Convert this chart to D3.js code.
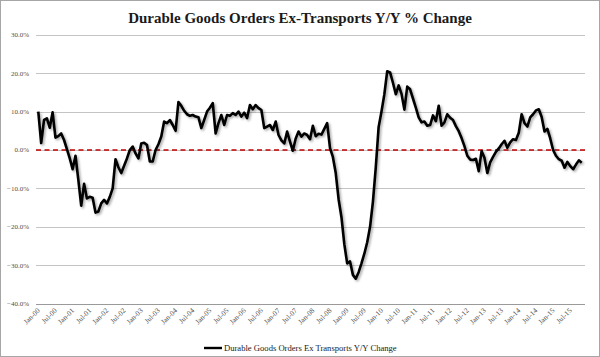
<!DOCTYPE html>
<html>
<head>
<meta charset="utf-8">
<script src="https://cdn.jsdelivr.net/npm/d3@7"></script>
<style>
  html, body { margin: 0; padding: 0; background: #fff; }
  svg { display: block; }
  text { font-family: "Liberation Serif", "DejaVu Serif", serif; }
</style>
</head>
<body>
<svg id="chart" width="600" height="357"></svg>
<script>
// ---- data (monthly, starting Jan 2000) ----
const title = "Durable Goods Orders Ex-Transports Y/Y % Change";
const seriesName = "Durable Goods Orders Ex Transports Y/Y Change";
const startYear = 2000;
const values = [
  10.0, 1.8, 7.8, 8.2, 5.8, 9.8, 3.2, 3.6, 4.3, 2.6, 0.2, -2.2,
  -5.0, -1.5, -7.8, -14.5, -8.8, -12.6, -12.2, -12.4, -16.3, -16.0, -13.9, -13.0,
  -13.9, -12.2, -10.0, -2.4, -4.5, -6.0, -4.1, -2.2, 0.0, 0.9, -0.9, -2.2,
  1.7, 1.9, 1.3, -3.0, -3.0, 0.0, 1.5, 3.5, 7.4, 7.0, 7.8, 6.5,
  5.0, 12.5, 11.5, 10.2, 9.3, 8.9, 9.1, 8.7, 8.5, 5.7, 7.8, 10.0,
  11.0, 12.2, 4.3, 7.0, 9.1, 6.5, 9.1, 8.9, 9.6, 9.1, 10.0, 8.7,
  9.7, 8.3, 11.7, 10.6, 11.7, 10.9, 10.4, 5.7, 6.1, 6.5, 5.2, 7.4,
  3.9, 2.5, 1.7, 4.8, 2.2, -0.2, 3.0, 4.8, 3.5, 4.3, 3.9, 2.8,
  6.3, 3.6, 4.2, 4.0, 5.5, 7.0, 0.5, -1.8, -6.0, -12.8, -17.5, -24.5,
  -29.5, -29.0, -32.5, -33.5, -31.8, -29.5, -27.0, -24.0, -20.0, -13.5, -4.5, 6.0,
  10.0, 14.5, 20.5, 20.2, 17.5, 14.5, 16.8, 14.6, 10.5, 16.5, 15.8, 13.4,
  11.0, 8.5, 7.2, 7.4, 6.3, 6.5, 9.0, 7.5, 11.5, 6.3, 7.2, 9.3,
  8.4, 7.8, 6.2, 4.9, 3.1, 1.0, -1.5, -2.5, -2.6, -2.3, -5.5, -0.3,
  -2.0, -6.0, -3.2, -1.8, -0.5, 0.4, 1.5, 2.4, 0.6, 2.0, 2.8, 2.6,
  4.5, 9.3, 7.0, 6.1, 8.5, 9.3, 10.3, 10.6, 8.6, 4.8, 5.5, 3.0,
  0.0, -1.5, -2.4, -2.8, -4.6, -3.1, -4.2, -5.0, -3.8, -2.7, -3.3
];
const yTicks = [30, 20, 10, 0, -10, -20, -30, -40];
const xTickLabels = [
  "Jan-00","Jul-00","Jan-01","Jul-01","Jan-02","Jul-02","Jan-03","Jul-03",
  "Jan-04","Jul-04","Jan-05","Jul-05","Jan-06","Jul-06","Jan-07","Jul-07",
  "Jan-08","Jul-08","Jan-09","Jul-09","Jan-10","Jul-10","Jan-11","Jul-11",
  "Jan-12","Jul-12","Jan-13","Jul-13","Jan-14","Jul-14","Jan-15","Jul-15"
];
const xTickMonths = xTickLabels.map((d, i) => i * 6);

// ---- layout ----
const svg = d3.select("#chart");
const W = 600, H = 357;
const plotLeft = 36, plotRight = 585;
const x = d3.scaleLinear().domain([0, values.length - 1]).range([38.3, 38.3 + (values.length - 1) * 2.86]);
const y = d3.scaleLinear().domain([-40, 30]).range([303.7, 34.7]);

// outer frame
svg.append("rect").attr("x", 0.5).attr("y", 0.5).attr("width", W - 1).attr("height", H - 1)
  .attr("fill", "#fff").attr("stroke", "#a6a6a6").attr("stroke-width", 1);

// title
svg.append("text").attr("x", 300).attr("y", 23).attr("text-anchor", "middle")
  .attr("font-size", 15).attr("font-weight", "bold").attr("fill", "#1a1a1a").text(title);

// gridlines
svg.append("g").selectAll("line").data(yTicks).join("line")
  .attr("x1", plotLeft).attr("x2", plotRight)
  .attr("y1", d => Math.round(y(d)) + 0.5).attr("y2", d => Math.round(y(d)) + 0.5)
  .attr("stroke", d => d === -40 ? "#9a9a9a" : "#c4c4c4").attr("stroke-width", 1);

// y labels
svg.append("g").selectAll("text").data(yTicks).join("text")
  .attr("x", 29).attr("y", d => y(d) + 2.5).attr("text-anchor", "end")
  .attr("font-size", 7).attr("fill", "#505050")
  .text(d => d3.format(".1f")(d) + "%");

// x labels
svg.append("g").selectAll("text").data(xTickMonths).join("text")
  .attr("text-anchor", "end").attr("font-size", 7.3).attr("fill", "#505050")
  .attr("transform", d => `translate(${x(d) + 2},${311}) rotate(-45)`)
  .text((d, i) => xTickLabels[i]);

// zero line
svg.append("line").attr("x1", plotLeft).attr("x2", plotRight)
  .attr("y1", y(0)).attr("y2", y(0))
  .attr("stroke", "#c00000").attr("stroke-width", 1.3).attr("stroke-dasharray", "5,3.5");

// shadow filter
const defs = svg.append("defs");
const f = defs.append("filter").attr("id", "shadow").attr("x", "-5%").attr("y", "-5%").attr("width", "110%").attr("height", "110%");
f.append("feDropShadow").attr("dx", 1.5).attr("dy", 1.5).attr("stdDeviation", 1).attr("flood-color", "#000").attr("flood-opacity", 0.35);

// line
const line = d3.line().x((d, i) => x(i)).y(d => y(d));
svg.append("path").datum(values).attr("d", line)
  .attr("fill", "none").attr("stroke", "#000").attr("stroke-width", 2.6)
  .attr("stroke-linejoin", "round").attr("filter", "url(#shadow)");

// legend
svg.append("line").attr("x1", 204).attr("x2", 222).attr("y1", 348).attr("y2", 348)
  .attr("stroke", "#000").attr("stroke-width", 2.4);
svg.append("text").attr("x", 224).attr("y", 351).attr("font-size", 8.6).attr("fill", "#1a1a1a").text(seriesName);
</script>
</body>
</html>
